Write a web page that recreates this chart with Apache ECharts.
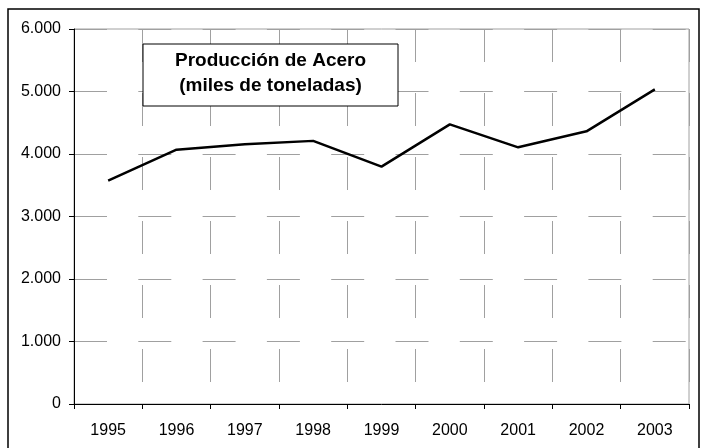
<!DOCTYPE html>
<html>
<head>
<meta charset="utf-8">
<script src="https://cdn.jsdelivr.net/npm/echarts@6/dist/echarts.min.js"></script>
<style>
  html, body { margin: 0; padding: 0; background: #fff; }
  #chart { width: 702px; height: 448px; }
</style>
</head>
<body>
<div id="chart"></div>
<script>
// Crude steel production, thousands of tonnes
const years = ['1995', '1996', '1997', '1998', '1999', '2000', '2001', '2002', '2003'];
const production = [3575, 4069, 4157, 4210, 3797, 4474, 4107, 4363, 5033];
const yTicks = [0, 1000, 2000, 3000, 4000, 5000, 6000];
const titleLines = ['Producción de Acero', '(miles de toneladas)'];

const FONT = '"Liberation Sans", Arial, sans-serif';

// thousands separator as a dot: 6000 -> "6.000"
function fmt(v) {
  return String(v).replace(/\B(?=(\d{3})+(?!\d))/g, '.');
}

const chart = echarts.init(document.getElementById('chart'), null, { renderer: 'canvas' });

chart.setOption({
  animation: false,
  backgroundColor: '#fff',
  grid: {
    left: 74, top: 29, right: 13, bottom: 44,
    show: true,
    borderColor: '#a0a0a0',
    borderWidth: 1,
    backgroundColor: '#fff'
  },
  xAxis: {
    type: 'category',
    data: years,
    boundaryGap: true,
    axisLine: { lineStyle: { color: '#000', width: 1 } },
    axisTick: { show: true, length: 5, lineStyle: { color: '#000' } },
    axisLabel: { color: '#000', fontFamily: FONT, fontSize: 16, margin: 19 },
    splitLine: {
      show: true,
      lineStyle: { color: '#a0a0a0', width: 1, type: [33, 31], dashOffset: 0 }
    }
  },
  yAxis: {
    type: 'value',
    min: yTicks[0],
    max: yTicks[yTicks.length - 1],
    interval: yTicks[1] - yTicks[0],
    axisLine: { show: true, lineStyle: { color: '#000', width: 1 } },
    axisTick: { show: true, length: 5, lineStyle: { color: '#000' } },
    axisLabel: { color: '#000', fontFamily: FONT, fontSize: 16, margin: 13, formatter: fmt },
    splitLine: {
      show: true,
      lineStyle: { color: '#a0a0a0', width: 1, type: [33, 31.3], dashOffset: 0 }
    }
  },
  series: [{
    type: 'line',
    data: production,
    symbol: 'none',
    lineStyle: { color: '#000', width: 2.5 },
    z: 5
  }],
  graphic: [
    // outer frame of the chart
    {
      type: 'rect',
      shape: { x: 8, y: 9, width: 691, height: 460 },
      style: { fill: null, stroke: '#000', lineWidth: 1.5 },
      silent: true,
      z: 100
    },
    // boxed title inside the plot area
    {
      type: 'rect',
      shape: { x: 143, y: 44, width: 255, height: 62 },
      style: { fill: '#fff', stroke: '#000', lineWidth: 1 },
      z: 100
    },
    {
      type: 'text',
      x: 270.5, y: 73,
      z: 101,
      style: {
        text: titleLines.join('\n'),
        font: 'bold 19px ' + FONT,
        fill: '#000',
        align: 'center',
        verticalAlign: 'middle',
        lineHeight: 25
      }
    }
  ]
});
</script>
</body>
</html>
